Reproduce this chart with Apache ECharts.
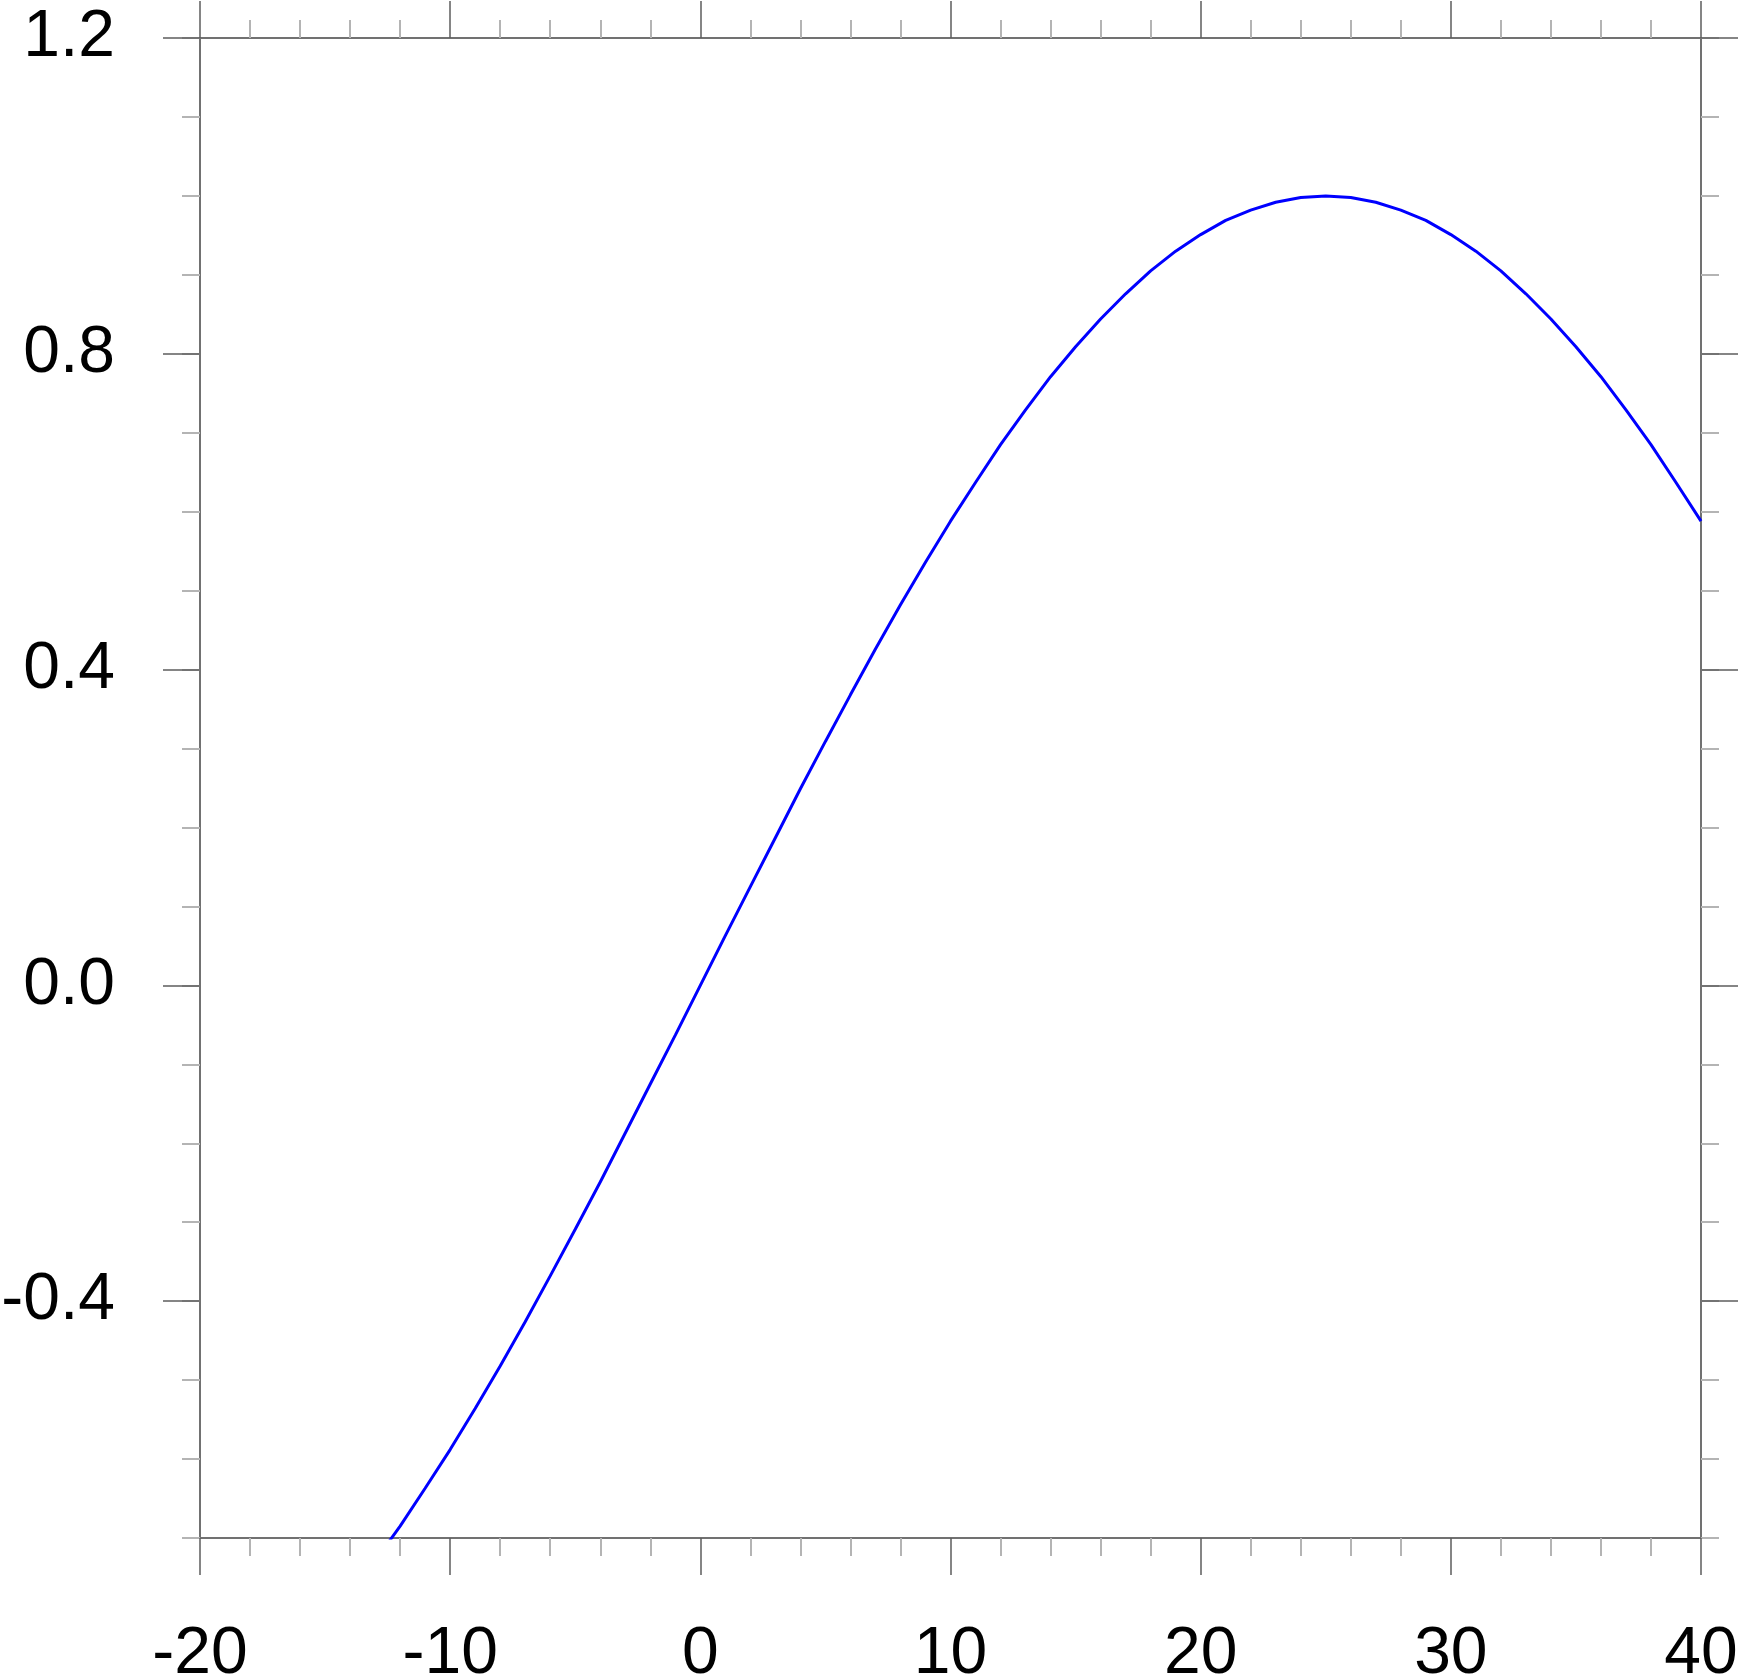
<!DOCTYPE html>
<html>
<head>
<meta charset="utf-8">
<script src="https://cdn.jsdelivr.net/npm/echarts@6/dist/echarts.min.js"></script>
<style>
html,body{margin:0;padding:0;background:#fff;}
#chart{width:1739px;height:1676px;}
</style>
</head>
<body>
<div id="chart"></div>
<script>
// Data
var xValues = [-13,-12,-11,-10,-9,-8,-7,-6,-5,-4,-3,-2,-1,0,1,2,3,4,5,6,7,8,9,10,11,12,13,14,15,16,17,18,19,20,21,22,23,24,25,26,27,28,29,30,31,32,33,34,35,36,37,38,39,40];
var yValues = [-0.729,-0.685,-0.637,-0.588,-0.536,-0.482,-0.426,-0.368,-0.309,-0.249,-0.187,-0.125,-0.063,0.000,0.063,0.125,0.187,0.249,0.309,0.368,0.426,0.482,0.536,0.588,0.637,0.685,0.729,0.771,0.809,0.844,0.876,0.905,0.930,0.951,0.969,0.982,0.992,0.998,1.000,0.998,0.992,0.982,0.969,0.951,0.930,0.905,0.876,0.844,0.809,0.771,0.729,0.685,0.637,0.588];
var xMajorTicks = [-20,-10,0,10,20,30,40];
var yMajorTicks = [-0.4,0.0,0.4,0.8,1.2];
var xRange = [-20, 40];
var yRange = [-0.7, 1.2];

var lineData = xValues.map(function(x, i){ return [x, yValues[i]]; });

var axisColor = '#717171';
var dark = '#5e5e5e';
var light = '#b4b4b4';
var fontFamily = '"Liberation Sans", Arial, Helvetica, sans-serif';

function xAxis(pos, labels) {
  return {
    type: 'value', position: pos, min: xRange[0], max: xRange[1], interval: 10,
    axisLine: {show: true, onZero: false, lineStyle: {color: axisColor, width: 2}},
    axisTick: {show: true, inside: false, length: 37, lineStyle: {color: dark, width: 1.5}},
    minorTick: {show: true, splitNumber: 5, length: 18, lineStyle: {color: light, width: 2}},
    splitLine: {show: false}, minorSplitLine: {show: false},
    axisLabel: labels ? {
      show: true, margin: 84, color: '#000', fontSize: 66, fontFamily: fontFamily,
      formatter: function(v){ return String(v); }
    } : {show: false}
  };
}
function yMinorAxis(pos) {
  return {
    type: 'value', position: pos, min: yRange[0], max: yRange[1], interval: 0.1,
    axisLine: {show: true, onZero: false, lineStyle: {color: axisColor, width: 2}},
    axisTick: {show: true, inside: false, length: 18, lineStyle: {color: light, width: 2}},
    splitLine: {show: false},
    axisLabel: {show: false}
  };
}
function yMajorAxis(pos, labels) {
  return {
    type: 'value', position: pos, min: yRange[0], max: yRange[1], interval: 0.1,
    axisLine: {show: false, onZero: false},
    axisTick: {show: true, inside: false, length: 37, customValues: yMajorTicks, lineStyle: {color: dark, width: 1.5}},
    splitLine: {show: false},
    axisLabel: labels ? {
      show: true, margin: 85, color: '#000', fontSize: 66, fontFamily: fontFamily,
      padding: [9, 0, 0, 0],
      customValues: yMajorTicks,
      formatter: function(v){ return Number(v).toFixed(1); }
    } : {show: false}
  };
}

var chart = echarts.init(document.getElementById('chart'), null, {renderer: 'canvas'});
chart.setOption({
  animation: false,
  backgroundColor: '#ffffff',
  grid: {left: 200, top: 38, width: 1501, height: 1500, containLabel: false, outerBoundsMode: 'none'},
  xAxis: [xAxis('bottom', true), xAxis('top', false)],
  yAxis: [yMinorAxis('left'), yMajorAxis('left', true), yMinorAxis('right'), yMajorAxis('right', false)],
  series: [{
    type: 'line', xAxisIndex: 0, yAxisIndex: 0,
    data: lineData, showSymbol: false, symbol: 'none', smooth: false, clip: true,
    lineStyle: {color: '#0000ff', width: 3}
  }]
});
</script>
</body>
</html>
